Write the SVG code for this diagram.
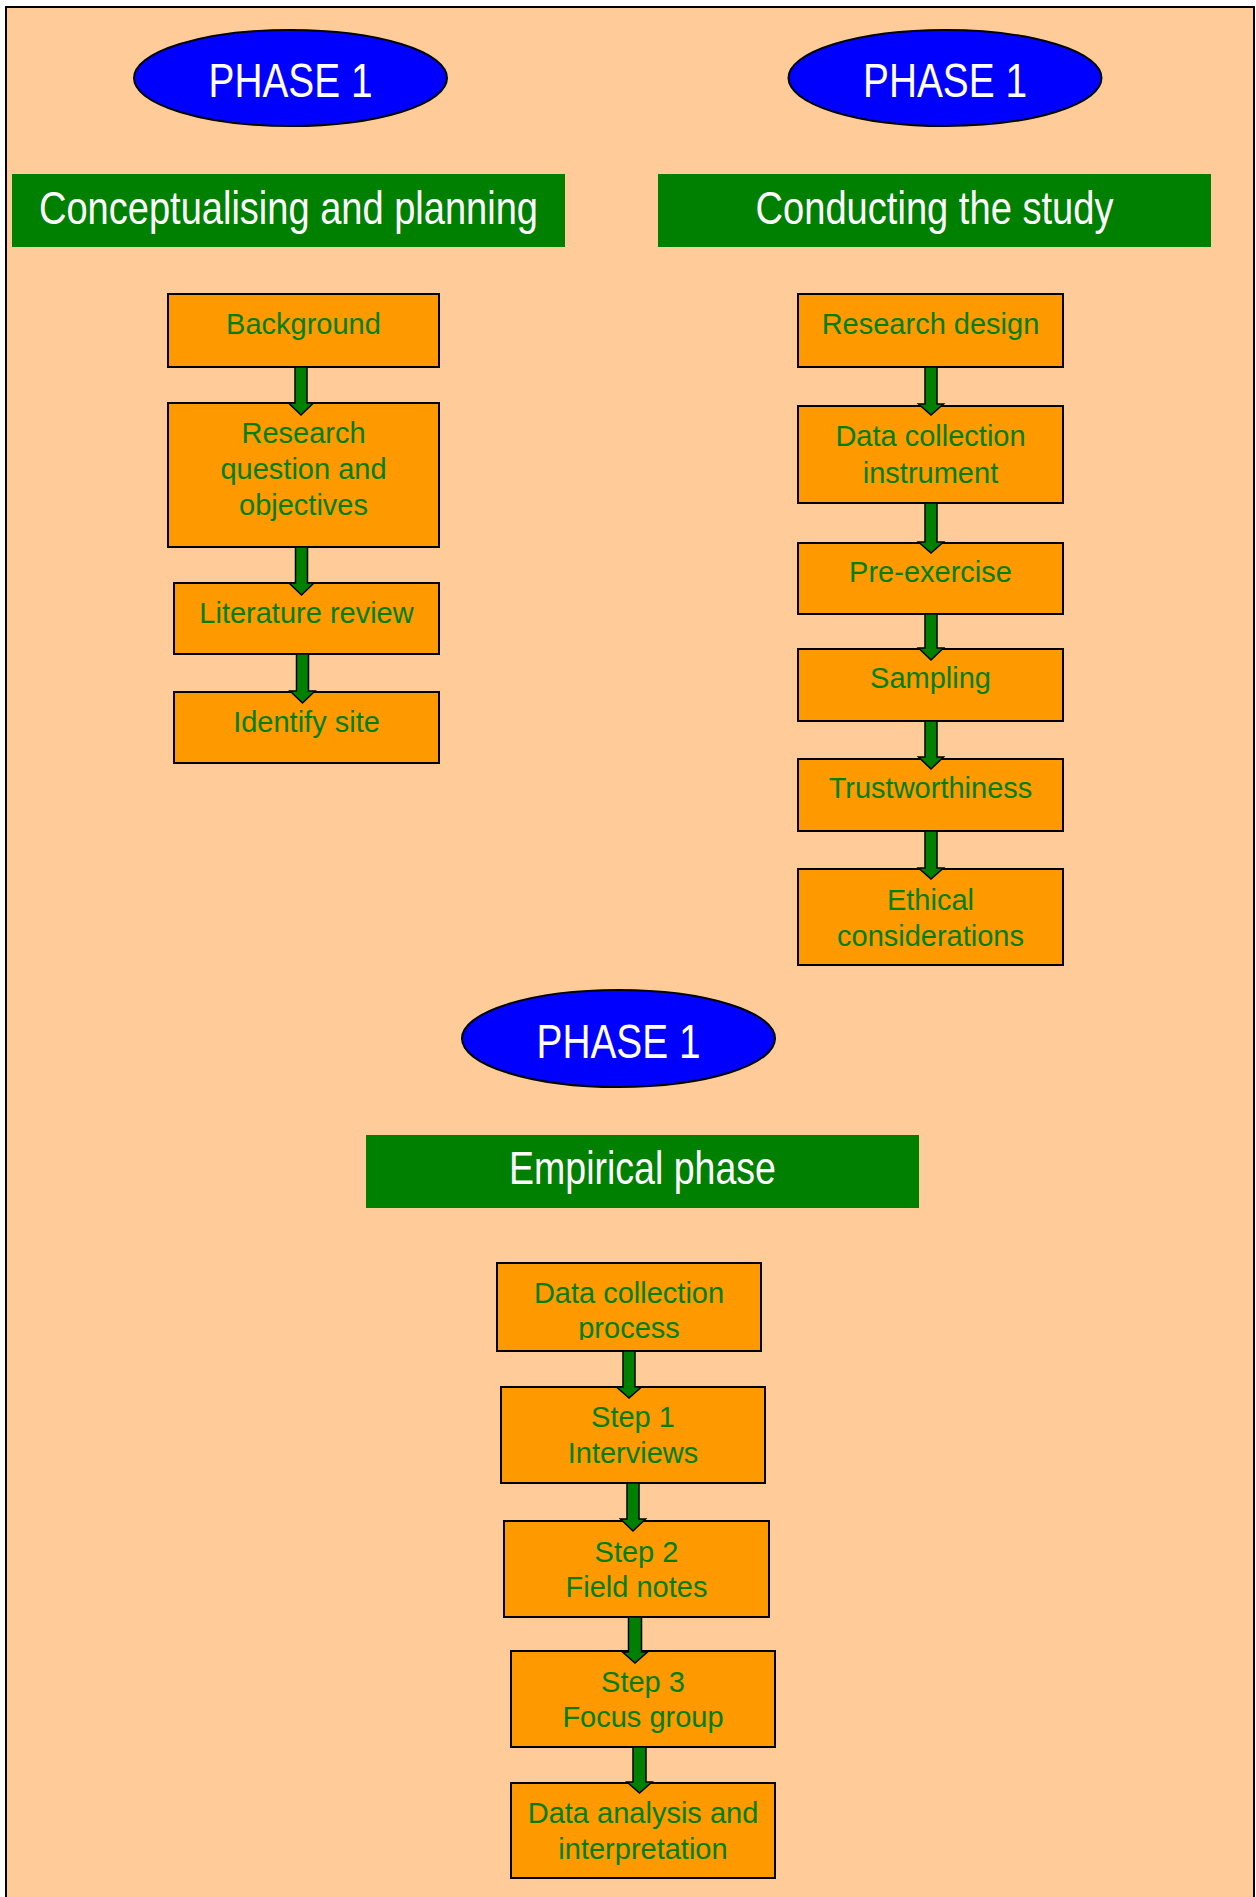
<svg xmlns="http://www.w3.org/2000/svg" width="1256" height="1897" viewBox="0 0 1256 1897">
<defs>
<style>
.frame{fill:#FFCC99;stroke:#000;stroke-width:2}
.oval{fill:#0000FF;stroke:#000;stroke-width:2}
.bar{fill:#008000}
.box{fill:#FF9900;stroke:#000;stroke-width:2}
.ph{font-family:"Liberation Sans",Arial,sans-serif;font-size:47.5px;fill:#fff;text-anchor:middle}
.hd{font-family:"Liberation Sans",Arial,sans-serif;font-size:46px;fill:#fff;text-anchor:middle}
.bt{font-family:"Liberation Sans",Arial,sans-serif;font-size:29px;fill:#008000;text-anchor:middle}
.arr{fill:#008000;stroke:#000;stroke-width:1.5;stroke-linejoin:miter}
</style>
<clipPath id="clipD1"><rect x="497" y="1263" width="264" height="77"/></clipPath>
</defs>
<rect width="1256" height="1897" fill="#fff"/>
<rect class="frame" x="6" y="7" width="1248" height="1900"/>

<g id="phase1-left">
<ellipse class="oval" cx="290.5" cy="78" rx="156.5" ry="48"/>
<text class="ph" x="290.5" y="97" textLength="164" lengthAdjust="spacingAndGlyphs">PHASE 1</text>
</g>
<g id="phase1-right">
<ellipse class="oval" cx="945" cy="78" rx="156.5" ry="48"/>
<text class="ph" x="945" y="97" textLength="164" lengthAdjust="spacingAndGlyphs">PHASE 1</text>
</g>
<g id="heading-conceptualising">
<rect class="bar" x="12" y="174" width="553" height="73"/>
<text class="hd" x="288.5" y="224" textLength="499" lengthAdjust="spacingAndGlyphs">Conceptualising and planning</text>
</g>
<g id="heading-conducting">
<rect class="bar" x="658" y="174" width="553" height="73"/>
<text class="hd" x="934.5" y="224" textLength="358" lengthAdjust="spacingAndGlyphs">Conducting the study</text>
</g>

<g id="background">
<rect class="box" x="168" y="294" width="271" height="73"/>
<text class="bt" x="303.5" y="334">Background</text>
</g>
<g id="research-question">
<rect class="box" x="168" y="403" width="271" height="144"/>
<text class="bt" x="303.5" y="443">Research</text>
<text class="bt" x="303.5" y="479">question and</text>
<text class="bt" x="303.5" y="515">objectives</text>
</g>
<g id="literature-review">
<rect class="box" x="174" y="583" width="265" height="71"/>
<text class="bt" x="306.5" y="623">Literature review</text>
</g>
<g id="identify-site">
<rect class="box" x="174" y="692" width="265" height="71"/>
<text class="bt" x="306.5" y="732">Identify site</text>
</g>

<g id="research-design">
<rect class="box" x="798" y="294" width="265" height="73"/>
<text class="bt" x="930.5" y="334">Research design</text>
</g>
<g id="data-collection-instrument">
<rect class="box" x="798" y="406" width="265" height="97"/>
<text class="bt" x="930.5" y="446">Data collection</text>
<text class="bt" x="930.5" y="483">instrument</text>
</g>
<g id="pre-exercise">
<rect class="box" x="798" y="543" width="265" height="71"/>
<text class="bt" x="930.5" y="582">Pre-exercise</text>
</g>
<g id="sampling">
<rect class="box" x="798" y="649" width="265" height="72"/>
<text class="bt" x="930.5" y="688">Sampling</text>
</g>
<g id="trustworthiness">
<rect class="box" x="798" y="759" width="265" height="72"/>
<text class="bt" x="930.5" y="798">Trustworthiness</text>
</g>
<g id="ethical-considerations">
<rect class="box" x="798" y="869" width="265" height="96"/>
<text class="bt" x="930.5" y="910">Ethical</text>
<text class="bt" x="930.5" y="946">considerations</text>
</g>

<g id="phase1-bottom">
<ellipse class="oval" cx="618.5" cy="1038.5" rx="156.5" ry="48.5"/>
<text class="ph" x="618.5" y="1057.5" textLength="164" lengthAdjust="spacingAndGlyphs">PHASE 1</text>
</g>
<g id="heading-empirical">
<rect class="bar" x="366" y="1135" width="553" height="73"/>
<text class="hd" x="642.5" y="1184" textLength="267" lengthAdjust="spacingAndGlyphs">Empirical phase</text>
</g>

<g id="data-collection-process">
<rect class="box" x="497" y="1263" width="264" height="88"/>
<g clip-path="url(#clipD1)">
<text class="bt" x="629" y="1303">Data collection</text>
<text class="bt" x="629" y="1338">process</text>
</g>
</g>
<g id="step1">
<rect class="box" x="501" y="1387" width="264" height="96"/>
<text class="bt" x="633" y="1427">Step 1</text>
<text class="bt" x="633" y="1463">Interviews</text>
</g>
<g id="step2">
<rect class="box" x="504" y="1521" width="265" height="96"/>
<text class="bt" x="636.5" y="1562">Step 2</text>
<text class="bt" x="636.5" y="1597">Field notes</text>
</g>
<g id="step3">
<rect class="box" x="511" y="1651" width="264" height="96"/>
<text class="bt" x="643" y="1692">Step 3</text>
<text class="bt" x="643" y="1727">Focus group</text>
</g>
<g id="data-analysis">
<rect class="box" x="511" y="1783" width="264" height="95"/>
<text class="bt" x="643" y="1823">Data analysis and</text>
<text class="bt" x="643" y="1859">interpretation</text>
</g>

<g id="connectors">
<path class="arr" d="M295,367 H307 V403 H313.5 L301,415 L288.5,403 H295 Z"/>
<path class="arr" d="M295.5,547 H307.5 V583 H314 L301.5,595 L289,583 H295.5 Z"/>
<path class="arr" d="M296.5,654 H308.5 V691 H315 L302.5,703 L290,691 H296.5 Z"/>
<path class="arr" d="M925,367 H937 V404 H943.5 L931,415 L918.5,404 H925 Z"/>
<path class="arr" d="M925,503 H937 V542 H943.5 L931,553 L918.5,542 H925 Z"/>
<path class="arr" d="M925,614 H937 V648 H943.5 L931,660 L918.5,648 H925 Z"/>
<path class="arr" d="M925,721 H937 V757 H943.5 L931,769 L918.5,757 H925 Z"/>
<path class="arr" d="M925,831 H937 V868 H943.5 L931,879 L918.5,868 H925 Z"/>
<path class="arr" d="M623,1351 H635 V1387 H641.5 L629,1398 L616.5,1387 H623 Z"/>
<path class="arr" d="M627,1483 H639 V1519 H645.5 L633,1531 L620.5,1519 H627 Z"/>
<path class="arr" d="M628.5,1617 H641.5 V1652 H647.5 L635,1663 L622.5,1652 H628.5 Z"/>
<path class="arr" d="M633,1747 H646 V1782 H652 L639.5,1793 L627,1782 H633 Z"/>
</g>
</svg>
